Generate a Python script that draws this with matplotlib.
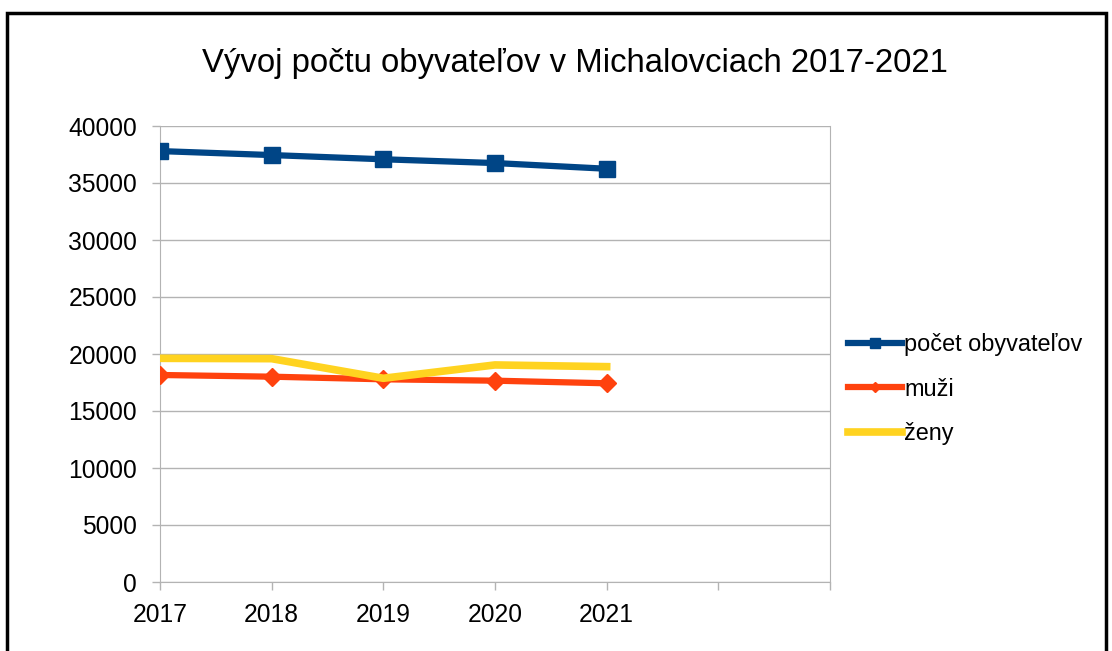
import matplotlib.pyplot as plt
from matplotlib.patches import Rectangle

years = [2017, 2018, 2019, 2020, 2021]
pocet = [37800, 37450, 37080, 36750, 36250]
muzi = [18160, 18010, 17780, 17660, 17430]
zeny = [19620, 19590, 17870, 19040, 18890]

xtick_pos = [2017, 2018, 2019, 2020, 2021, 2022, 2023]
xtick_labels = ['2017', '2018', '2019', '2020', '2021', '', '']
ytick_pos = [0, 5000, 10000, 15000, 20000, 25000, 30000, 35000, 40000]

plt.rcParams['font.family'] = ['Liberation Sans', 'DejaVu Sans']

fig = plt.figure(figsize=(11.12, 6.51), dpi=100)
ax = fig.add_axes([160/1112, 1-582/651, 670/1112, 456/651])

grid_c = '#b3b3b3'
ax.plot(years, pocet, color='#004586', lw=4.5, marker='s', ms=11,
        label='počet obyvateľov', zorder=3)
ax.plot(years, muzi, color='#ff420e', lw=4.5, marker='D', ms=9,
        label='muži', zorder=3)
ax.plot(years, zeny, color='#ffd320', lw=5.5, solid_capstyle='projecting',
        label='ženy', zorder=4)

ax.set_xlim(2017, 2023)
ax.set_ylim(0, 40000)
ax.set_xticks(xtick_pos)
ax.set_xticklabels(xtick_labels)
ax.set_yticks(ytick_pos)
ax.tick_params(axis='both', colors=grid_c, labelcolor='black', labelsize=17.7,
               length=6, width=1)
ax.tick_params(axis='x', pad=9)
ax.tick_params(axis='y', pad=10.5)
ax.grid(axis='y', color=grid_c, lw=1)
ax.set_axisbelow(True)
for s in ['left', 'right', 'bottom']:
    ax.spines[s].set_color(grid_c)
ax.spines['top'].set_visible(False)

ax.legend(loc='center left', bbox_to_anchor=(1.027, 0.423), borderaxespad=0,
          frameon=False, fontsize=16.9, handlelength=2.3, labelspacing=0.9,
          handletextpad=0.1, borderpad=0, markerscale=0.6)

fig.text(0.517, 1-72/651, 'Vývoj počtu obyvateľov v Michalovciach 2017-2021',
         ha='center', va='baseline', fontsize=23.7)

fig.patches.append(Rectangle((7/1112, -0.1), 1099/1112, 1.1-13/651,
                             transform=fig.transFigure, fill=False,
                             lw=2.5, ec='black'))

fig.savefig('out.png', dpi=100)
